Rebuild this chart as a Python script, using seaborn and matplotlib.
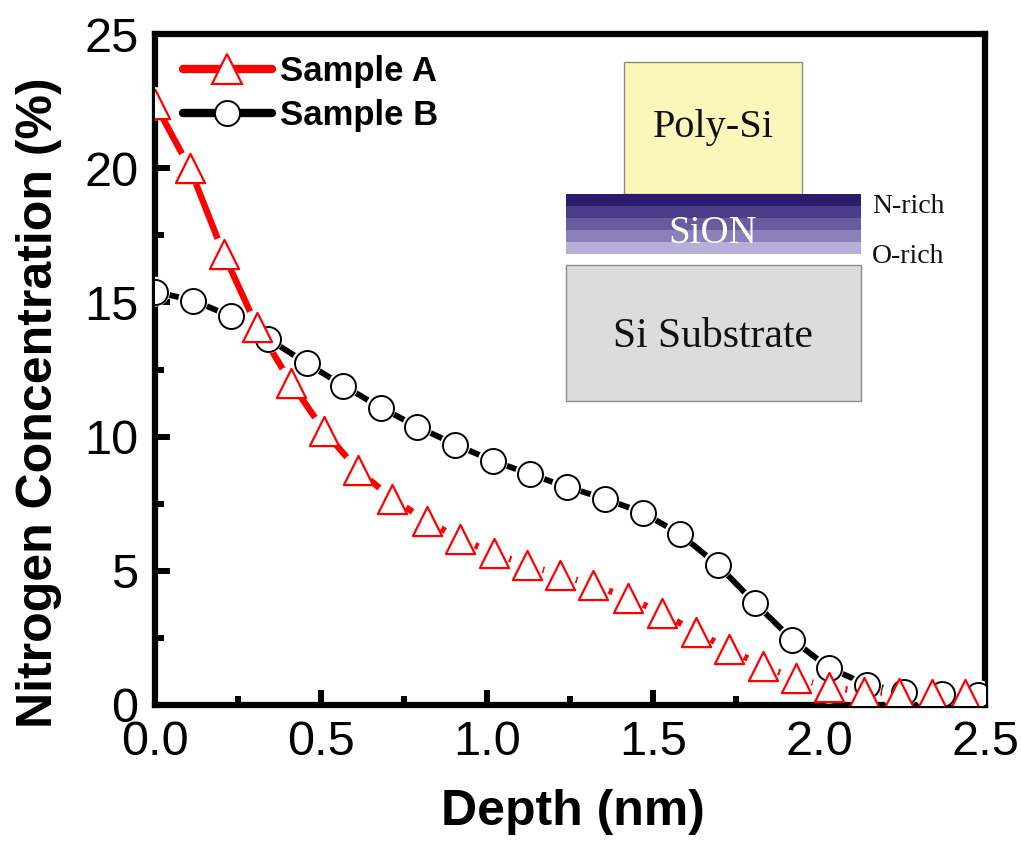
import numpy as np
import pandas as pd
import seaborn as sns
import matplotlib
matplotlib.use("Agg")
import matplotlib.pyplot as plt
from matplotlib.lines import Line2D
from matplotlib.patches import Rectangle
from matplotlib.ticker import MultipleLocator

# ---------------- data ----------------
depth_a = [0.0, 0.105, 0.207, 0.307, 0.41, 0.51, 0.61, 0.714, 0.818, 0.918, 1.02, 1.12,
           1.22, 1.32, 1.425, 1.527, 1.63, 1.73, 1.83, 1.93, 2.03, 2.135, 2.24, 2.34, 2.44]
conc_a = [22.4, 20.0, 16.8, 14.1, 12.0, 10.2, 8.77, 7.69, 6.87, 6.19, 5.66, 5.22,
          4.85, 4.47, 4.0, 3.42, 2.72, 2.08, 1.45, 1.0, 0.67, 0.49, 0.45, 0.41, 0.40]
depth_b = [0.0, 0.115, 0.23, 0.34, 0.457, 0.567, 0.68, 0.79, 0.905, 1.018, 1.13, 1.24,
           1.355, 1.47, 1.58, 1.695, 1.807, 1.92, 2.03, 2.145, 2.256, 2.37, 2.48]
conc_b = [15.4, 15.07, 14.48, 13.65, 12.73, 11.9, 11.08, 10.37, 9.7, 9.1, 8.6, 8.13,
          7.69, 7.16, 6.38, 5.22, 3.8, 2.43, 1.38, 0.76, 0.49, 0.41, 0.37]
series_labels = ["Sample A", "Sample B"]
x_ticks = [0.0, 0.5, 1.0, 1.5, 2.0, 2.5]
y_ticks = [0, 5, 10, 15, 20, 25]
layer_labels = ["Poly-Si", "SiON", "Si Substrate", "N-rich", "O-rich"]

# ---------------- style ----------------
sns.set_theme(style="white")
plt.rcParams["font.family"] = ["Liberation Sans", "DejaVu Sans"]
plt.rcParams["text.color"] = "black"
plt.rcParams["axes.labelcolor"] = "black"

W, H = 1021, 851
fig = plt.figure(figsize=(W / 100, H / 100), dpi=100)
L, R, T, B = 155, 985, 34, 705
ax = fig.add_axes([L / W, 1 - B / H, (R - L) / W, (B - T) / H])

df_a = pd.DataFrame({"x": depth_a, "y": conc_a})
df_b = pd.DataFrame({"x": depth_b, "y": conc_b})

red = "#FF0000"
black = "#000000"

# lines
sns.lineplot(data=df_a, x="x", y="y", ax=ax, color=red, linewidth=4.6,
             solid_capstyle="round", sort=False, zorder=2)
sns.lineplot(data=df_b, x="x", y="y", ax=ax, color=black, linewidth=4.2,
             solid_capstyle="round", sort=False, zorder=2)

ms_a, ms_b = 21, 18
gap_a, gap_b = 24.0, 21.5   # Origin-like gap around symbols (diameter, pt)
sns.scatterplot(data=df_a, x="x", y="y", ax=ax, marker="o", s=gap_a ** 2,
                color="white", edgecolor="none", linewidth=0, zorder=3)
sns.scatterplot(data=df_b, x="x", y="y", ax=ax, marker="o", s=gap_b ** 2,
                color="white", edgecolor="none", linewidth=0, zorder=3)
# symbols
sns.scatterplot(data=df_b, x="x", y="y", ax=ax, marker="o", s=ms_b ** 2,
                facecolor="white", edgecolor=black, linewidth=1.4, zorder=4)
sns.scatterplot(data=df_a, x="x", y="y", ax=ax, marker="^", s=ms_a ** 2,
                facecolor="white", edgecolor=red, linewidth=1.6, zorder=5)

ax.set_xlim(0, 2.5)
ax.set_ylim(0, 25)
ax.set_xticks(x_ticks)
ax.set_xticklabels([f"{v:.1f}" for v in x_ticks])
ax.set_yticks(y_ticks)
ax.set_yticklabels([f"{v:d}" for v in y_ticks])
ax.xaxis.set_minor_locator(MultipleLocator(0.25))
ax.yaxis.set_minor_locator(MultipleLocator(2.5))
ax.tick_params(axis="both", which="major", direction="in", length=11, width=4.3,
               labelsize=35, color="black", labelcolor="black",
               bottom=True, left=True, top=False, right=False)
ax.tick_params(axis="x", which="major", pad=11)
ax.tick_params(axis="y", which="major", pad=12)
ax.tick_params(axis="both", which="minor", direction="in", length=6.5, width=4.3,
               color="black", bottom=True, left=True, top=False, right=False)
for sp in ax.spines.values():
    sp.set_linewidth(4.5)
    sp.set_color("black")
    sp.set_visible(True)
ax.grid(False)

ax.set_xlabel("Depth (nm)", fontsize=36, fontweight="bold", color="black")
ax.set_ylabel("Nitrogen Concentration (%)", fontsize=36, fontweight="bold", color="black")
ax.xaxis.set_label_coords(0.504, -0.125)
ax.yaxis.set_label_coords(-0.112, 0.45)

handles = [
    Line2D([], [], color=red, linewidth=6, solid_capstyle="round", marker="^",
           markersize=ms_a, markerfacecolor="white", markeredgecolor=red, markeredgewidth=1.6),
    Line2D([], [], color=black, linewidth=6, solid_capstyle="round", marker="o",
           markersize=ms_b, markerfacecolor="white", markeredgecolor=black, markeredgewidth=1.4),
]
leg = ax.legend(handles, series_labels, loc="upper left",
                bbox_to_anchor=(28 / (R - L), 1 - 21 / (B - T)),
                frameon=False, borderpad=0, borderaxespad=0, handlelength=2.55,
                handletextpad=0.25, labelspacing=0.33,
                prop={"family": "Liberation Sans", "weight": "bold", "size": 25})
for t in leg.get_texts():
    t.set_color("black")

# ---------------- inset schematic ----------------
ix0, ix1, iy0, iy1 = 555, 960, 55, 410
ins = fig.add_axes([ix0 / W, 1 - iy1 / H, (ix1 - ix0) / W, (iy1 - iy0) / H])
ins.set_xlim(ix0, ix1)
ins.set_ylim(iy1, iy0)
ins.axis("off")

edge = "#8A8A8A"
ins.add_patch(Rectangle((624, 62), 802 - 624, 194 - 62, facecolor="#FBF6B9",
                        edgecolor=edge, linewidth=1.0))
band_colors = ["#2B1B6C", "#4A3C86", "#685C9E", "#8B81B8", "#B7AFD7"]
band_h = (254 - 194) / len(band_colors)
for i, c in enumerate(band_colors):
    ins.add_patch(Rectangle((566, 194 + i * band_h), 861 - 566, band_h,
                            facecolor=c, edgecolor="none"))
ins.add_patch(Rectangle((566, 254), 861 - 566, 11, facecolor="white", edgecolor="none"))
ins.add_patch(Rectangle((566, 265), 861 - 566, 401 - 265, facecolor="#DCDCDC",
                        edgecolor=edge, linewidth=1.0))

serif = ["Liberation Serif", "DejaVu Serif"]
ins.text(713, 137, layer_labels[0], family=serif, fontsize=29, ha="center",
         va="baseline", color="#111111")
ins.text(713, 243, layer_labels[1], family=serif, fontsize=28, ha="center",
         va="baseline", color="white")
ins.text(713, 347, layer_labels[2], family=serif, fontsize=30, ha="center",
         va="baseline", color="#111111")
ins.text(872, 213, layer_labels[3], family=serif, fontsize=20, ha="left",
         va="baseline", color="#111111", clip_on=False)
ins.text(872, 263, layer_labels[4], family=serif, fontsize=20, ha="left",
         va="baseline", color="#111111", clip_on=False)

fig.savefig("out.png", dpi=100, facecolor="white")
